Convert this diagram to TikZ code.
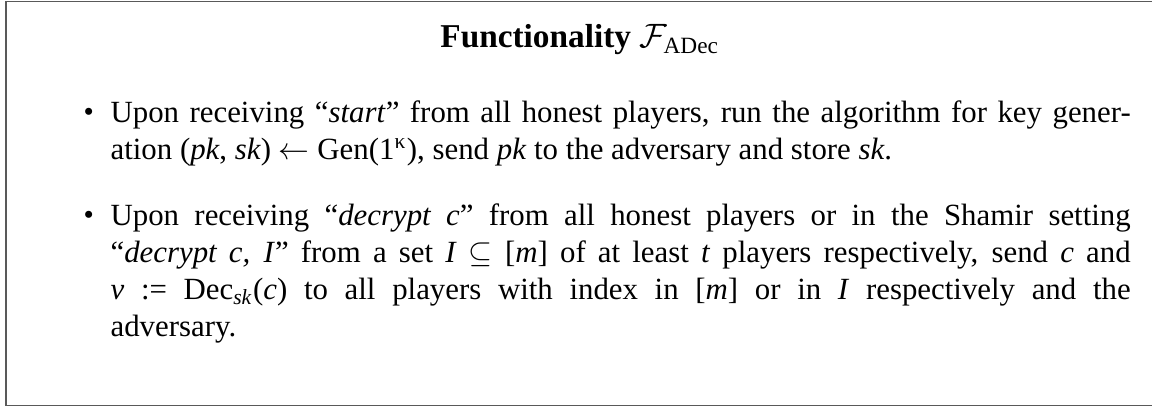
\documentclass[tikz,border=0pt]{standalone}
\usepackage{fontspec}
\setmainfont{Liberation Serif}
\newcommand{\itembullet}{\strut\llap{\raisebox{0.3pt}{\fontsize{9.5}{9.5}\selectfont\textbullet}\hspace{5.4pt}}}
\begin{document}
\begin{tikzpicture}[x=0.3243pt,y=-0.3243pt,
  boxline/.style={draw=black!65,line width=0.6pt},
  itemtext/.style={anchor=north west,inner sep=0pt,text width=330.8pt,align=justify,font=\fontsize{10}{12}\selectfont},
  titletext/.style={anchor=base,inner sep=0pt,font=\fontsize{10.8}{13}\selectfont}]
\useasboundingbox (0,0) rectangle (1152,410);
\clip (0,0) rectangle (1152,410);
\draw[boxline] (6,1.5) rectangle (1156,405.5);
\node[titletext] (title) at (580,48) {\textbf{Functionality} $\mathcal{F}_{\mathrm{ADec}}$};
\node[itemtext] (item1) at (110,96.2) {\itembullet Upon receiving “\emph{start}” from all honest players, run the algorithm for key gener-\linebreak ation (\textit{pk}, \textit{sk}) $\leftarrow$ Gen(1\textsuperscript{κ}), send \textit{pk} to the adversary and store \textit{sk}.};
\node[itemtext] (item2) at (110,199.1) {\itembullet Upon receiving “\emph{decrypt c}” from all honest players or in the Shamir setting\linebreak “\emph{decrypt c, I}” from a set \textit{I} $\subseteq$ [\textit{m}] of at least \textit{t} players respectively, send \textit{c} and\linebreak \textit{v} := Dec\textsubscript{\textit{sk}}(\textit{c}) to all players with index in [\textit{m}] or in \textit{I} respectively and the\linebreak adversary.};
\end{tikzpicture}
\end{document}
